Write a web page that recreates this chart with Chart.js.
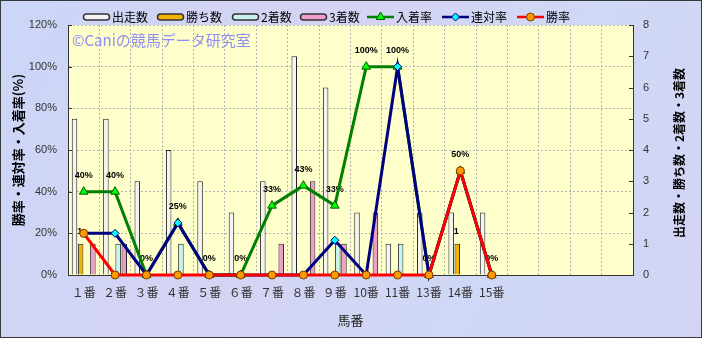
<!DOCTYPE html>
<html>
<head>
<meta charset="utf-8">
<script src="https://cdn.jsdelivr.net/npm/chart.js@4.4.0/dist/chart.umd.min.js"></script>
<style>
  html, body { margin: 0; padding: 0; background: #cfd8f6; }
</style>
</head>
<body>
<canvas id="chart" width="702" height="338"></canvas>
<script>
// 馬番 (12番 is absent, four empty slots on the right)
const horseLabels = ['１番', '２番', '３番', '４番', '５番', '６番', '７番', '８番', '９番', '10番', '11番', '13番', '14番', '15番', '', '', '', ''];

// counts (right axis)
const starts  = [5, 5, 3, 4, 3, 2, 3, 7, 6, 2, 1, 2, 2, 2];
const wins    = [1, 0, 0, 0, 0, 0, 0, 0, 0, 0, 0, 0, 1, 0];
const seconds = [0, 1, 0, 1, 0, 0, 0, 0, 1, 0, 1, 0, 0, 0];
const thirds  = [1, 1, 0, 0, 0, 0, 1, 3, 1, 2, 0, 0, 0, 0];

// rates in % (left axis)
const placeRate  = [40, 40, 0, 25, 0, 0, 33.3, 42.9, 33.3, 100, 100, 0, 50, 0];
const rentaiRate = [20, 20, 0, 25, 0, 0, 0, 0, 16.7, 0, 100, 0, 50, 0];
const winRate    = [20, 0, 0, 0, 0, 0, 0, 0, 0, 0, 0, 0, 50, 0];

const JP = '"Noto Sans CJK JP", sans-serif';
const LAT = '"Liberation Sans", "Noto Sans CJK JP", sans-serif';

// where the legend icons start (x)
const legendX = [83, 157, 232, 300, 367, 442, 517];

function marker(ctx, style, r, x, y, fill, stroke) {
    ctx.save();
    ctx.beginPath();
    if (style === 'triangle') {
        let rad = 0;
        ctx.moveTo(x + Math.sin(rad) * r, y - Math.cos(rad) * r);
        rad += Math.PI * 2 / 3;
        ctx.lineTo(x + Math.sin(rad) * r, y - Math.cos(rad) * r);
        rad += Math.PI * 2 / 3;
        ctx.lineTo(x + Math.sin(rad) * r, y - Math.cos(rad) * r);
        ctx.closePath();
    } else if (style === 'rectRot') {
        ctx.moveTo(x, y - r);
        ctx.lineTo(x + r, y);
        ctx.lineTo(x, y + r);
        ctx.lineTo(x - r, y);
        ctx.closePath();
    } else {
        ctx.arc(x, y, r, 0, Math.PI * 2);
    }
    ctx.fillStyle = fill;
    ctx.fill();
    ctx.lineWidth = 1;
    ctx.strokeStyle = stroke;
    ctx.stroke();
    ctx.restore();
}

const decoPlugin = {
    id: 'deco',
    beforeDraw(chart) {
        const {ctx, width, height, chartArea: a} = chart;
        ctx.save();
        const g = ctx.createLinearGradient(0, 0, width, height);
        g.addColorStop(0, '#cbd6f7');
        g.addColorStop(0.4, '#d5d3f3');
        g.addColorStop(0.7, '#cfd8f6');
        g.addColorStop(1, '#d3d4f4');
        ctx.fillStyle = g;
        ctx.fillRect(0, 0, width, height);
        ctx.fillStyle = '#ffffcc';
        ctx.fillRect(a.left, a.top, a.right - a.left, a.bottom - a.top);
        ctx.restore();
    },
    beforeDatasetsDraw(chart) {
        const {ctx, chartArea: a, scales} = chart;
        ctx.save();
        // watermark
        ctx.font = '15px ' + JP;
        ctx.fillStyle = '#8e8ef2';
        ctx.textBaseline = 'middle';
        ctx.fillText('©Caniの競馬データ研究室', a.left + 4, a.top + 15);
        // inward tick marks
        ctx.strokeStyle = '#333';
        ctx.lineWidth = 1;
        ctx.beginPath();
        scales.y.ticks.forEach(t => {
            const y = Math.round(scales.y.getPixelForValue(t.value)) + 0.5;
            ctx.moveTo(a.left, y);
            ctx.lineTo(a.left + 4, y);
        });
        scales.y2.ticks.forEach(t => {
            const y = Math.round(scales.y2.getPixelForValue(t.value)) + 0.5;
            ctx.moveTo(a.right - 4, y);
            ctx.lineTo(a.right, y);
        });
        ctx.stroke();
        ctx.restore();
    },
    beforeDatasetDraw(chart, args) {
        // value labels go under the lines, over the bars
        if (args.index !== 4) return;
        const {ctx} = chart;
        ctx.save();
        ctx.font = 'bold 9px ' + LAT;
        ctx.fillStyle = '#000';
        ctx.textAlign = 'center';
        ctx.textBaseline = 'middle';
        chart.getDatasetMeta(4).data.forEach((pt, i) => {
            ctx.fillText(Math.round(placeRate[i]) + '%', pt.x, pt.y - 16);
        });
        chart.getDatasetMeta(1).data.forEach((bar, i) => {
            if (wins[i] > 0) ctx.fillText(String(wins[i]), bar.x - 1, bar.y - 12);
        });
        ctx.restore();
    },
    afterDraw(chart) {
        const {ctx, width, height, chartArea: a} = chart;
        ctx.save();
        // legend
        ctx.font = '12px ' + JP;
        ctx.textBaseline = 'middle';
        const ly = 17;
        chart.data.datasets.forEach((ds, i) => {
            const x = legendX[i];
            if (ds.type === 'line') {
                ctx.strokeStyle = ds.borderColor;
                ctx.lineWidth = 2.5;
                ctx.beginPath();
                ctx.moveTo(x, ly);
                ctx.lineTo(x + 27, ly);
                ctx.stroke();
                marker(ctx, ds.pointStyle, ds.pointRadius, x + 13.5, ly, ds.pointBackgroundColor, ds.pointBorderColor);
            } else {
                ctx.beginPath();
                ctx.roundRect(x + 0.5, ly - 3, 26, 6, 3);
                ctx.fillStyle = ds.backgroundColor;
                ctx.fill();
                ctx.lineWidth = 1.5;
                ctx.strokeStyle = '#333';
                ctx.stroke();
            }
            ctx.fillStyle = '#000';
            ctx.fillText(ds.label, x + 29, ly);
        });
        // right axis title, reading bottom to top like the left one
        ctx.font = 'bold 12px ' + JP;
        ctx.translate(679, (a.top + a.bottom) / 2 + 3);
        ctx.rotate(-Math.PI / 2);
        ctx.textAlign = 'center';
        ctx.fillText('出走数・勝ち数・2着数・3着数', 0, 0);
        ctx.restore();
        // frame
        ctx.save();
        ctx.strokeStyle = '#3a3a3a';
        ctx.lineWidth = 1;
        ctx.strokeRect(0.5, 0.5, width - 1, height - 1);
        ctx.restore();
    }
};

const barCommon = {
    type: 'bar',
    yAxisID: 'y2',
    borderColor: '#222',
    borderWidth: 1,
    barPercentage: 0.9,
    categoryPercentage: 0.78,
    order: 3
};

const ctx = document.getElementById('chart');

new Chart(ctx, {
    type: 'bar',
    data: {
        labels: horseLabels,
        datasets: [
            Object.assign({}, barCommon, { label: '出走数', data: starts, backgroundColor: '#f4f4f4' }),
            Object.assign({}, barCommon, { label: '勝ち数', data: wins, backgroundColor: '#f0b400' }),
            Object.assign({}, barCommon, { label: '2着数', data: seconds, backgroundColor: '#c6f2f2' }),
            Object.assign({}, barCommon, { label: '3着数', data: thirds, backgroundColor: '#ee9ec8' }),
            {
                type: 'line',
                label: '入着率',
                data: placeRate,
                yAxisID: 'y',
                borderColor: '#008000',
                borderWidth: 3,
                pointStyle: 'triangle',
                pointRadius: 5,
                pointBackgroundColor: '#00ff00',
                pointBorderColor: '#005a00',
                pointBorderWidth: 1,
                clip: false,
                order: 2
            },
            {
                type: 'line',
                label: '連対率',
                data: rentaiRate,
                yAxisID: 'y',
                borderColor: '#000080',
                borderWidth: 3,
                pointStyle: 'rectRot',
                pointRadius: 4,
                pointBackgroundColor: '#00ffff',
                pointBorderColor: '#000080',
                pointBorderWidth: 1,
                clip: false,
                order: 1
            },
            {
                type: 'line',
                label: '勝率',
                data: winRate,
                yAxisID: 'y',
                borderColor: '#ff0000',
                borderWidth: 3,
                pointStyle: 'circle',
                pointRadius: 4,
                pointBackgroundColor: '#ff9900',
                pointBorderColor: '#7a3a00',
                pointBorderWidth: 1,
                clip: false,
                order: 0
            }
        ]
    },
    options: {
        responsive: false,
        animation: false,
        events: [],
        layout: { padding: { top: 25, left: 0, right: 0, bottom: 0 } },
        plugins: {
            legend: { display: false },
            tooltip: { enabled: false }
        },
        scales: {
            x: {
                offset: true,
                grid: { color: '#b4b4b4', drawTicks: false, offset: true },
                border: { color: '#333', dash: [2, 2] },
                ticks: { color: '#333', font: { family: JP, size: 12 }, padding: 10, maxRotation: 0, autoSkip: false },
                title: { display: true, text: '馬番', color: '#222', font: { family: JP, size: 13 }, padding: { top: 0, bottom: 10 } },
                afterFit: s => { s.height = 63; }
            },
            y: {
                position: 'left',
                min: 0,
                max: 120,
                ticks: { stepSize: 20, color: '#333', font: { family: LAT, size: 11 }, padding: 11, callback: v => v + '%' },
                grid: { color: '#b4b4b4', drawTicks: false },
                border: { color: '#333', dash: [2, 2] },
                title: { display: true, text: '勝率・連対率・入着率(%)', color: '#000', font: { family: JP, size: 13, weight: 'bold' }, padding: { top: 10, bottom: 0 } },
                afterFit: s => { s.width = 68; }
            },
            y2: {
                position: 'right',
                min: 0,
                max: 8,
                ticks: { stepSize: 1, color: '#333', font: { family: LAT, size: 11 }, padding: 10 },
                grid: { drawOnChartArea: false, drawTicks: false },
                border: { color: '#333' },
                afterFit: s => { s.width = 69; }
            }
        }
    },
    plugins: [decoPlugin]
});
</script>
</body>
</html>
